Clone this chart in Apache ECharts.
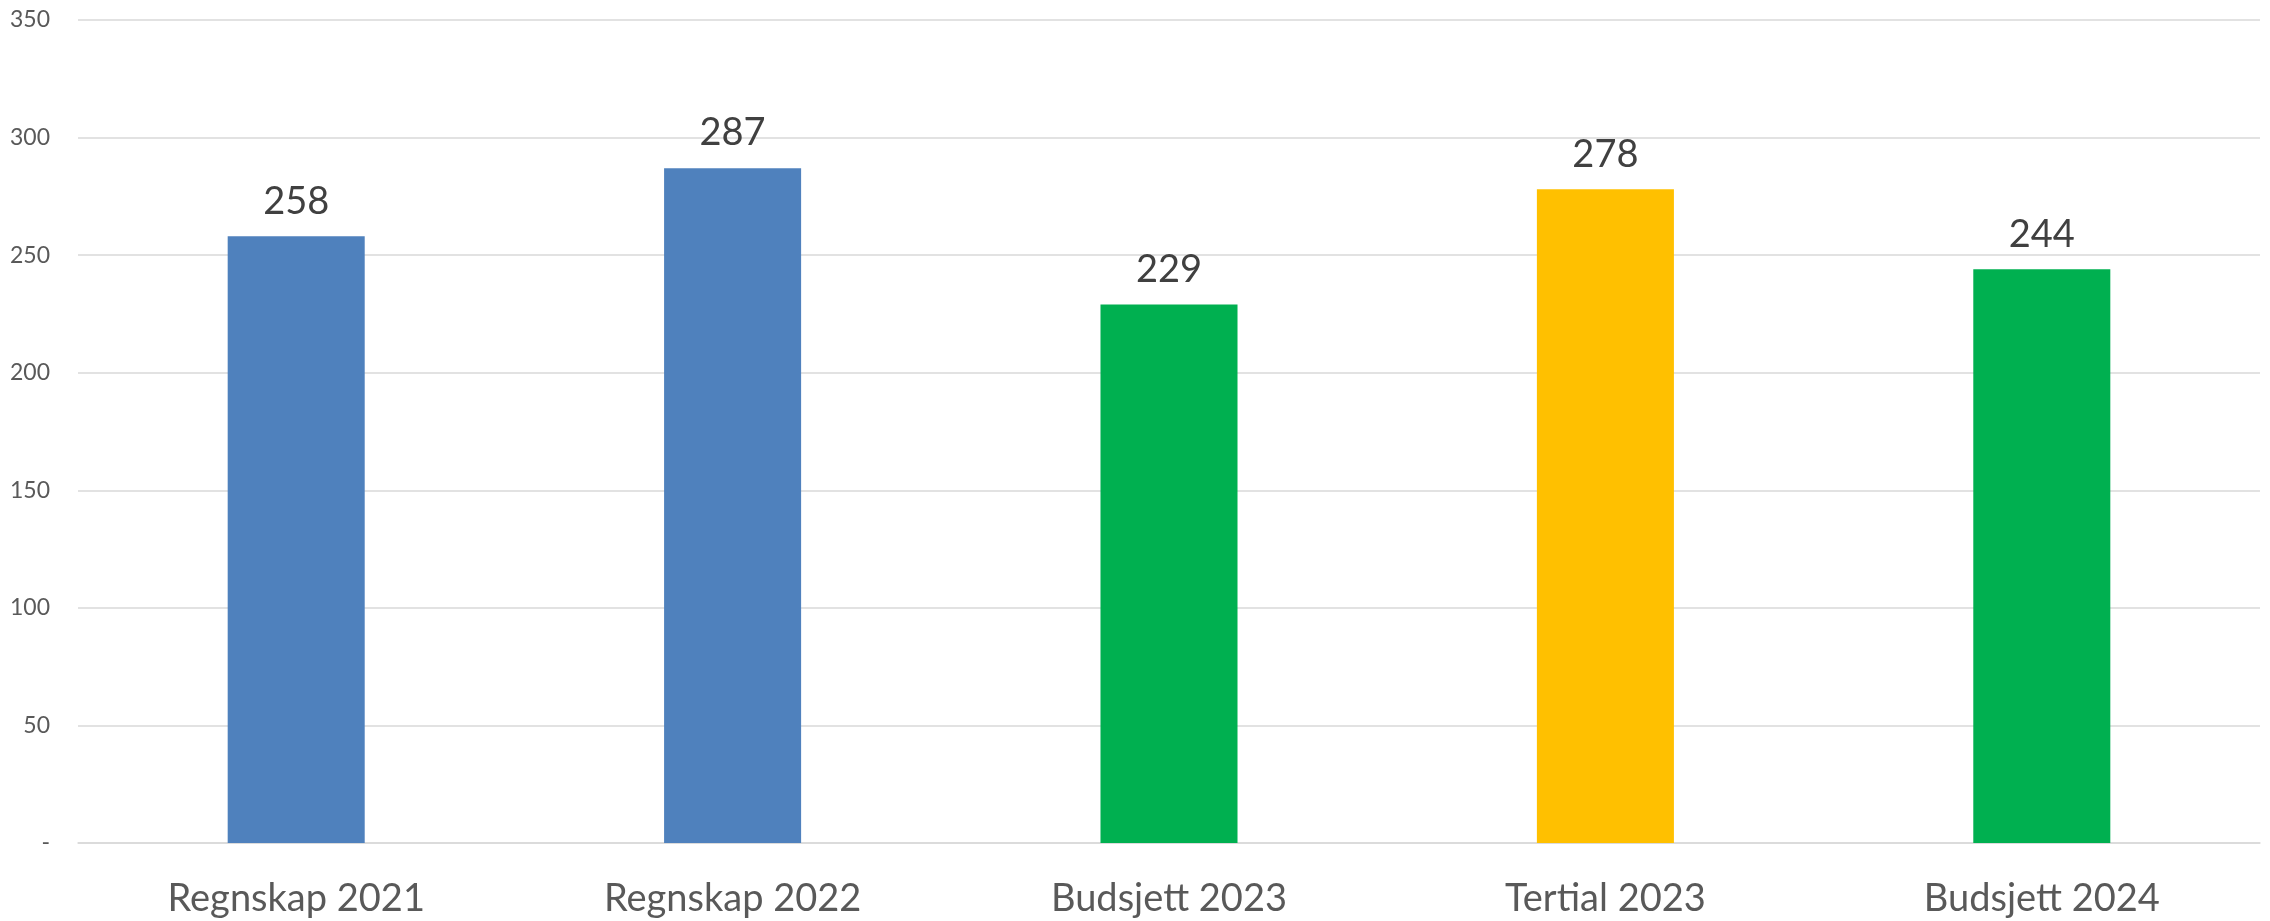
<!DOCTYPE html>
<html>
<head>
<meta charset="utf-8">
<script src="https://cdn.jsdelivr.net/npm/echarts@6/dist/echarts.min.js"></script>
<style>
  html, body { margin: 0; padding: 0; background: #fff; }
  #chart { width: 2270px; height: 921px; }
</style>
</head>
<body>
<div id="chart"></div>
<script>
const categories = ["Regnskap 2021", "Regnskap 2022", "Budsjett 2023", "Tertial 2023", "Budsjett 2024"];
const values = [258, 287, 229, 278, 244];
const barColors = ["#4F81BD", "#4F81BD", "#00B050", "#FFC000", "#00B050"];

let chart = echarts.init(document.getElementById("chart"));
let option = {
  animation: false,
  textStyle: { fontFamily: "Lato" },
  grid: { left: 78, right: 10, top: 20, bottom: 78 },
  xAxis: {
    type: "category",
    data: categories,
    axisTick: { show: false },
    axisLine: { lineStyle: { color: "#d9d9d9", width: 1.5 } },
    axisLabel: { fontSize: 38, color: "#595959", margin: 37, fontFamily: "Lato" },
  },
  yAxis: {
    type: "value",
    min: 0,
    max: 350,
    interval: 50,
    axisLabel: {
      fontSize: 23,
      color: "#595959",
      margin: 28,
      formatter: (v) => (v === 0 ? "-" : v),
    },
    splitLine: { lineStyle: { color: "#d9d9d9", width: 1.5 } },
  },
  series: [
    {
      type: "bar",
      barWidth: "31.4%",
      data: values.map((v, i) => ({ value: v, itemStyle: { color: barColors[i] } })),
      label: {
        show: true,
        position: "top",
        distance: 16,
        fontSize: 38,
        color: "#404040",
        fontFamily: "Lato",
      },
    },
  ],
};
chart.setOption(option);
</script>
</body>
</html>
